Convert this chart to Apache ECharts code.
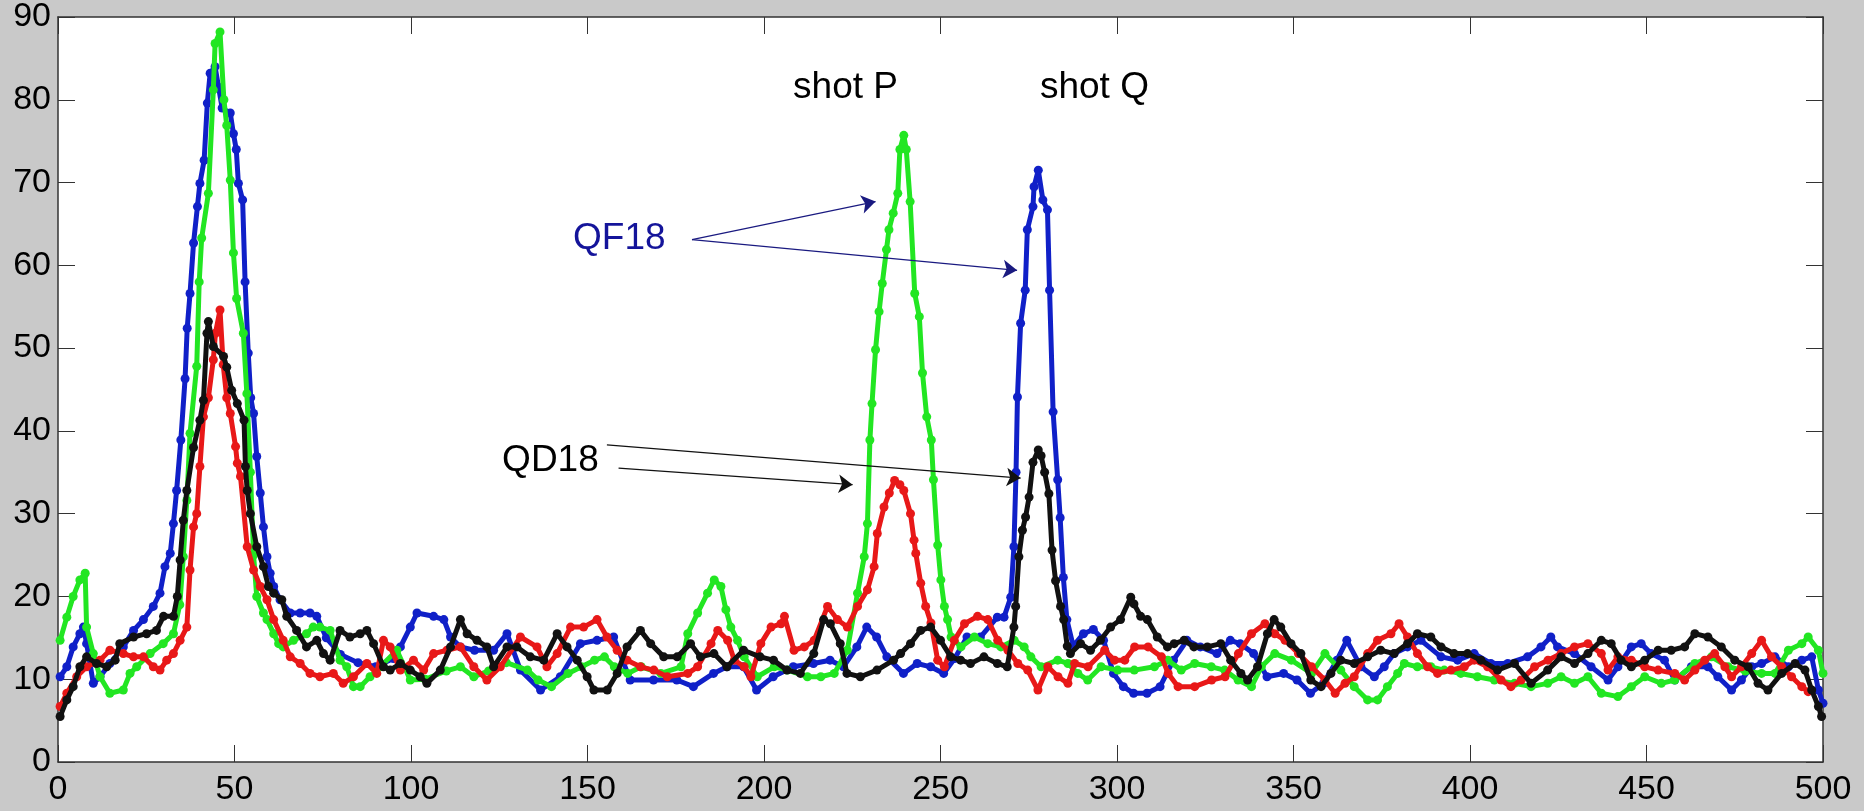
<!DOCTYPE html>
<html>
<head>
<meta charset="utf-8">
<script src="https://cdn.jsdelivr.net/npm/echarts@6/dist/echarts.min.js"></script>
<style>
html,body{margin:0;padding:0;background:#c9c9c9;}
#chart{width:1864px;height:811px;}
</style>
</head>
<body>
<div id="chart"></div>
<script>
// ---- data ----
var xTicks = [0,50,100,150,200,250,300,350,400,450,500];
var yTicks = [0,10,20,30,40,50,60,70,80,90];

var blueX = [0.6,2.5,4.3,6.2,7.2,8.1,10,11.9,14.7,18.5,21.4,24.2,27,28.9,30.3,31.8,32.7,33.6,34.8,36.0,36.6,37.4,38.4,39.5,40.2,41.4,42.3,43.1,44.5,45.5,46.5,48.8,49.7,50.5,51.1,52.3,53.0,53.9,54.6,55.4,56.3,57.3,58.2,59.2,60.1,61.1,62.9,65.8,68.6,71.4,73.3,76,80,85,90,95,97,99.8,101.7,106.4,109.3,111.2,114,118,123.4,127.2,131,136.7,142.3,148,152.7,157.4,162.1,168.7,175.3,180,185.7,189.5,194.2,197.9,202.6,208.3,214,218.7,222.5,226.3,229.1,231.9,234.8,239.5,243.4,247.2,250.9,254,257.5,261.3,266.1,268,269.9,270.8,271.4,271.8,272.7,274,274.6,276.2,276.5,277.7,279,280.3,280.9,281.9,283.2,283.9,284.8,285.8,287.6,290.5,293.3,296.2,299,301.8,304.7,308.5,312.2,316,319.8,323.6,328.3,332.1,334.9,338.7,342.5,347.2,351,354.8,358.5,362.3,365.1,369.1,372.9,375.7,378.5,382.3,386.1,391.8,396.5,401.2,405.9,410.7,416.3,420.1,422.9,424.8,429.6,434.3,439.1,441.9,445.7,448.5,451.3,455.1,458,462.7,467.4,470.2,474.1,476.9,479.8,482.6,486.4,490.2,494,496.8,498.7,500];
var blueY = [10.3,11.5,13.9,15.5,16.3,14.3,9.5,10.3,11.9,13.9,15.9,17.2,18.8,20.4,23.6,25.2,28.8,32.8,38.9,46.3,52.4,56.6,62.7,67.1,69.9,72.7,79.6,83.2,84.0,81.5,79.0,78.4,75.9,74.0,69.9,67.9,58.0,49.4,44.0,42.1,36.9,32.5,28.4,24.8,22.8,21.2,19.6,18.0,18.0,18.0,17.6,15.0,13.0,12.0,11.5,12.5,13.9,16.3,18.0,17.6,17.2,15.1,13.9,13.5,13.5,15.5,11.1,8.7,10.3,14.3,14.7,15.1,9.9,9.9,9.9,9.1,10.7,11.5,11.5,8.7,10.3,11.5,11.9,12.3,11.5,13.9,16.3,15.1,12.7,10.7,11.9,11.5,10.7,12.5,15.1,15.1,17.5,17.5,19.9,26.0,35.0,44.1,53.0,57.0,64.3,67.1,69.5,71.5,67.9,66.7,57.0,42.3,34.1,29.5,22.3,17.2,14.0,15.5,16.0,14.7,10.7,9.1,8.3,8.3,9.1,12.3,14.7,13.9,13.1,14.7,14.3,13.1,10.3,10.7,9.9,8.3,9.5,12.3,14.7,11.5,10.3,11.5,13.1,13.9,14.7,12.7,12.3,13.1,11.9,11.9,12.7,13.9,15.1,13.9,13.1,11.5,9.9,11.5,13.9,14.3,13.1,12.3,9.9,11.5,11.5,10.3,8.7,9.9,11.5,11.9,12.7,11.5,12.3,12.7,8.7,7.1];

var greenX = [0.6,2.5,4.3,6.2,7.7,8.1,10,11.9,14.7,18.5,20.4,22.3,26.1,29.8,32.7,34.5,35.5,36.5,37.4,39.3,40.0,40.7,42.6,44.0,44.5,45.9,47.0,47.8,48.8,49.7,50.6,52.5,53.5,54.5,55.4,56.3,58.2,59.2,61.1,62.5,63.8,66.7,70.4,72.3,74.2,77.1,79.9,81.8,83.7,85.6,88.4,91.3,96,99.8,104,110,114,117.8,122,127,133,136,139.8,144.5,148.3,152,154.8,157.6,161.4,165.2,170.8,176.5,178.4,181.2,184,185.9,187.8,189.2,190.6,192.5,194.4,198.1,202.9,206.6,212.3,216.1,219.9,223.6,226.5,228.4,229.3,230,230.6,231.6,232.6,233.5,234.7,235.4,236.6,237.9,238.5,239.6,240.3,241.4,242.7,244,244.9,246.1,247.4,248,249.2,250.1,251.1,252,253,255.8,259.6,263.4,267.1,270.9,273.7,275.6,278.5,283.2,286.1,288.9,291.7,295.5,300.2,304.9,310.6,314.4,318.2,322,326.7,330.5,334.3,338.1,340.9,344.7,349.4,355.1,358.9,363.4,367.2,371,373.8,376.6,379.5,381.4,385.1,388.9,392.7,397.4,402.1,406.9,412.6,417.3,422,425.8,429.6,433.4,437.2,441.9,445.7,449.5,454.2,458,463.7,468.4,473.1,478,482.6,486.4,490.2,494,495.8,498.7,500];
var greenY = [14.7,17.5,20.0,22.0,22.8,16.3,13.1,10.3,8.3,8.7,10.7,11.5,13.1,14.3,15.5,19.0,24.8,31.6,39.7,47.8,58.0,63.3,68.7,81.2,86.8,88.2,80.0,76.9,70.3,61.5,56.0,51.8,44.5,35.0,25.0,20.0,18.0,17.2,15.5,14.3,13.9,14.7,15.5,16.3,16.3,15.9,12.3,11.5,9.1,9.1,10.3,11.5,13.5,9.9,10.0,11.0,11.5,10.3,11.0,12.0,11.1,9.9,9.1,10.7,11.5,12.3,12.7,11.5,10.7,11.5,10.7,11.5,15.5,18.0,20.4,22.0,21.2,18.4,16.3,14.7,12.7,10.3,11.5,11.1,10.3,10.3,10.7,13.5,20.4,24.8,28.8,38.9,43.3,49.8,54.4,57.8,61.9,64.3,66.3,68.7,74.0,75.7,74.0,67.7,56.6,53.8,47.0,41.7,38.9,34.1,26.2,22.0,18.8,17.2,15.1,13.9,15.1,14.3,13.9,14.7,13.9,12.7,11.5,12.3,11.9,10.7,9.9,11.5,11.1,11.1,11.5,12.3,11.1,11.9,11.5,11.1,9.9,9.1,11.5,13.1,12.3,10.7,13.1,11.1,9.1,7.5,7.5,9.1,10.7,11.9,11.5,11.5,11.1,10.7,10.3,9.9,9.5,9.1,9.5,10.3,9.5,10.3,8.3,7.9,9.1,10.3,9.5,9.9,11.9,12.7,11.5,11.0,10.7,10.7,13.5,14.3,15.1,13.5,10.7];

var redX = [0.6,2.5,5.3,8.1,11.9,14.7,18.5,21.4,24.2,27,28.9,30.8,32.7,34.6,36.5,37.4,38.4,39.3,40.2,41.2,42.6,44,44.6,45.9,46.8,47.8,48.8,50.3,50.8,51.7,53.6,55.4,57.3,59.2,61.1,63.8,65.8,68.6,71.4,74.2,78,80.8,83.7,87.5,90.3,92.2,94.1,97,100.7,103.6,106.4,110.2,114,117.8,121.5,125.3,131,135.7,138.5,141.4,145.2,148.9,152.7,155.5,158.4,161.2,165,168.8,172.6,178.4,181.2,185,186.9,189.7,191.6,194.4,196.3,199.1,202,204.8,205.8,208.5,211.4,214.2,218,220.8,223.6,226.5,229.3,231.2,232.1,234,235.5,237,238.5,239.6,241.5,242.5,243,244.4,245.8,247.3,249.2,251.1,253.9,256.8,260.5,263.4,266.2,269.1,271.9,274.7,277.6,280.4,283.3,286.1,288,291.8,296.5,299.3,302.2,305,308.8,312.6,314.5,317.3,322,326.8,330.6,334.4,338.1,341.9,344.7,347.6,351.4,355.1,358.9,361.8,364.6,367.2,371,373.8,377.6,379.9,382.3,385.1,388,390.8,394.6,398.4,401.2,405,408.8,411.6,414.5,418.3,422.1,425.8,429.6,433.4,437.2,439.1,441.9,445.7,449.5,453.3,458,460.8,463.7,466.5,469.3,472.2,474.1,476.9,479.8,482.6,485.4,488.3,491.1,494,495.8];
var redY = [6.7,8.3,10.3,11.5,12.3,13.5,13.1,12.7,12.7,11.5,11.1,12.3,13.1,14.7,16.3,23.2,28.4,30.0,35.7,41.7,44.0,48.6,51.8,54.6,48.0,44.0,42.1,38.1,36.1,34.5,26.0,23.2,21.2,19.6,17.2,14.7,12.7,11.9,10.7,10.3,10.7,9.5,10.3,11.9,10.7,14.7,13.9,11.1,12.3,11.1,13.1,13.5,13.9,11.5,9.9,11.5,15.1,13.9,11.5,13.1,16.3,16.3,17.2,15.1,13.5,12.3,11.5,11.1,10.3,10.7,11.5,14.3,15.9,14.7,12.3,11.5,10.3,14.3,16.3,16.7,17.6,13.5,13.9,14.7,18.8,17.2,16.3,18.8,20.8,23.6,27.6,30.8,32.5,34.0,33.5,32.8,30.0,26.8,25.2,21.6,18.8,16.8,12.3,11.5,14.7,16.7,17.6,17.2,14.7,13.5,11.9,11.1,8.7,11.5,10.3,9.5,11.9,11.5,13.5,12.3,12.3,13.9,13.9,12.7,10.7,9.1,9.1,9.9,10.3,13.1,15.5,16.7,15.5,14.7,13.1,11.5,9.9,8.3,9.5,10.3,13.1,14.7,15.5,16.7,15.1,13.1,11.5,10.7,11.1,11.5,12.3,11.5,9.9,9.1,9.9,11.5,12.3,13.1,13.9,14.3,13.1,11.1,12.7,12.3,11.5,11.1,10.7,9.9,11.1,12.3,13.1,11.5,10.3,11.5,13.1,14.7,12.7,11.5,10.3,9.1,8.5];

var blackX = [0.6,2.5,4.3,6.2,8.1,10.9,13.8,16.2,17.5,21.4,25.1,27.9,29.9,32.7,33.8,34.6,35.5,36.5,38.4,40.2,41.2,42.2,42.6,44.0,46.9,47.8,49.2,50.8,52.7,53.1,53.6,54.5,56.3,58.2,59.6,61.1,63.4,64.8,67.6,70.4,73.3,75.2,77.1,79.9,82.7,85.6,87.5,89.4,92.2,94.1,97,99.8,102.6,104.5,108.3,111.2,114,115.9,118.7,121.5,123.4,127.2,130,133.8,137.6,141.4,144.2,147.1,149.9,151.8,155.6,158.4,161.2,165,167.9,171.6,175.4,179.2,182,185.8,189.5,194.2,198.9,202.7,206.5,210.3,214.1,216.9,218.8,221.6,223.5,227.3,232,236.7,238.7,241.5,244.4,247.2,250,252.9,255.7,258.5,262.3,266.1,268.9,270.8,271.3,272.2,273.2,274.1,275.1,276.2,277.7,278.5,279.5,280.7,281.6,282.6,284,284.9,285.9,286.8,289.7,292.5,295.3,298.2,301,303.9,304.8,306.7,308.6,311.4,314.3,316.2,319,321.8,325.6,329.4,332.2,335.1,337,339.8,342.6,344.5,346.4,349.3,352.1,354.9,357.8,360.6,363.4,367.2,371,374.7,378.5,382.3,385.1,388.9,391.8,395.5,399.3,403.1,407.8,412.6,417.3,422,425.8,429.6,433.4,437.2,440,442.8,445.7,449.5,453.3,457,460.8,463.7,467.4,471.2,475,478.8,481.6,484.4,488.3,492.1,494.9,496.8,498.7,499.6];
var blackY = [5.5,7.5,9.1,11.5,12.7,11.9,11.5,12.3,14.3,15.1,15.5,15.9,17.6,17.6,20.0,24.4,29.2,32.8,38.0,41.3,43.7,51.8,53.2,50.2,49.0,47.7,44.9,43.3,41.3,35.7,32.8,30.0,26.0,23.6,21.2,20.4,19.6,17.6,15.9,13.9,14.7,13.1,12.3,15.9,15.1,15.5,15.9,14.3,11.5,11.1,11.9,11.1,10.3,9.5,11.1,13.9,17.2,15.5,14.7,13.9,11.5,13.9,13.9,12.7,12.3,15.5,13.9,12.3,10.3,8.7,8.7,10.7,13.9,15.9,14.3,12.7,12.7,14.3,12.7,13.1,11.5,13.5,12.7,12.3,11.1,10.7,13.1,17.2,16.7,14.3,10.7,10.3,11.1,12.3,13.1,14.3,15.9,16.3,14.7,12.7,12.3,11.9,12.7,11.9,11.5,16.3,18.8,24.8,28.0,29.6,32.0,36.2,37.7,37.0,35.0,32.4,25.6,21.9,18.8,17.2,14.0,13.1,14.3,13.5,14.7,16.3,17.2,19.9,19.1,17.6,17.2,15.1,13.9,14.3,14.7,13.9,13.9,14.3,12.3,10.7,9.9,11.5,15.5,17.2,16.3,14.3,13.1,9.9,9.1,10.7,12.3,11.9,12.7,13.5,13.1,14.3,15.5,15.1,13.9,13.1,13.1,12.3,11.1,11.9,9.5,11.1,12.7,11.9,13.1,14.7,14.3,12.3,11.5,12.3,13.5,13.5,13.9,15.5,15.1,13.9,12.3,11.5,9.5,8.7,10.7,11.9,11.1,8.7,6.7,5.5];

var seriesNames = ['blue','green','red','black'];
var seriesColors = ['#1020c8','#22e622','#e81818','#111111'];

function pairs(xs, ys){ var out=[]; for(var i=0;i<xs.length;i++){ out.push([xs[i], ys[i]]); } return out; }
var allData = [pairs(blueX,blueY), pairs(greenX,greenY), pairs(redX,redY), pairs(blackX,blackY)];

var FONT = '"Liberation Sans", Arial, Helvetica, sans-serif';
var axisColor = '#333333';

var chart = echarts.init(document.getElementById('chart'), null, {renderer:'canvas'});

var series = allData.map(function(d, i){
  return {
    name: seriesNames[i], type: 'line', data: d,
    symbol: 'circle', symbolSize: 9, showSymbol: true,
    lineStyle: {color: seriesColors[i], width: 5},
    itemStyle: {color: seriesColors[i]},
    z: 2 + i, silent: true, animation: false
  };
});

// annotations (text + arrows), placed in data coordinates
series.push({
  type: 'scatter', data: [], silent: true, animation: false, z: 10,
  markPoint: {
    symbol: 'circle', symbolSize: 0, silent: true, animation: false,
    label: {show: true, position: 'inside', formatter: '{b}', fontFamily: FONT, fontSize: 37},
    data: [
      {name: 'shot P', coord: [223.1, 81.4], label: {color: '#000'}},
      {name: 'shot Q', coord: [293.6, 81.4], label: {color: '#000'}},
      {name: 'QF18', coord: [159.0, 63.2], label: {color: '#14149a'}},
      {name: 'QD18', coord: [139.5, 36.4], label: {color: '#000'}}
    ]
  },
  markLine: {
    silent: true, animation: false,
    symbol: ['none', 'arrow'], symbolSize: 14,
    label: {show: false},
    lineStyle: {type: 'solid', width: 1.2},
    data: [
      [{coord: [179.6, 63.1], lineStyle: {color: '#1a1a80'}, itemStyle: {color: '#1a1a9a'}}, {coord: [231.6, 67.7]}],
      [{coord: [179.6, 63.1], lineStyle: {color: '#1a1a80'}, itemStyle: {color: '#1a1a9a'}}, {coord: [271.7, 59.4]}],
      [{coord: [155.5, 38.3], lineStyle: {color: '#111'}, itemStyle: {color: '#111'}}, {coord: [272.7, 34.3]}],
      [{coord: [158.8, 35.5], lineStyle: {color: '#111'}, itemStyle: {color: '#111'}}, {coord: [225.1, 33.5]}]
    ]
  }
});

var tickStyle = {show: true, inside: true, length: 17, lineStyle: {color: axisColor, width: 1}};

chart.setOption({
  backgroundColor: '#c9c9c9',
  animation: false,
  grid: {left: 58, top: 17, right: 41, bottom: 49, show: true, backgroundColor: '#ffffff', borderWidth: 0, containLabel: false},
  xAxis: [
    {type: 'value', position: 'bottom', min: xTicks[0], max: xTicks[xTicks.length-1], interval: 50,
     axisLine: {show: true, onZero: false, lineStyle: {color: axisColor, width: 1.5}},
     axisTick: tickStyle, splitLine: {show: false},
     axisLabel: {show: true, margin: 11, color: '#000', fontFamily: FONT, fontSize: 34, showMinLabel: true, showMaxLabel: true}},
    {type: 'value', position: 'top', min: xTicks[0], max: xTicks[xTicks.length-1], interval: 50,
     axisLine: {show: true, onZero: false, lineStyle: {color: axisColor, width: 1.5}},
     axisTick: tickStyle, splitLine: {show: false}, axisLabel: {show: false}}
  ],
  yAxis: [
    {type: 'value', position: 'left', min: yTicks[0], max: yTicks[yTicks.length-1], interval: 10,
     axisLine: {show: true, onZero: false, lineStyle: {color: axisColor, width: 1.5}},
     axisTick: tickStyle, splitLine: {show: false},
     axisLabel: {show: true, margin: 7, color: '#000', fontFamily: FONT, fontSize: 34, showMinLabel: true, showMaxLabel: true}},
    {type: 'value', position: 'right', min: yTicks[0], max: yTicks[yTicks.length-1], interval: 10,
     axisLine: {show: true, onZero: false, lineStyle: {color: axisColor, width: 1.5}},
     axisTick: tickStyle, splitLine: {show: false}, axisLabel: {show: false}}
  ],
  series: series
});
</script>
</body>
</html>
